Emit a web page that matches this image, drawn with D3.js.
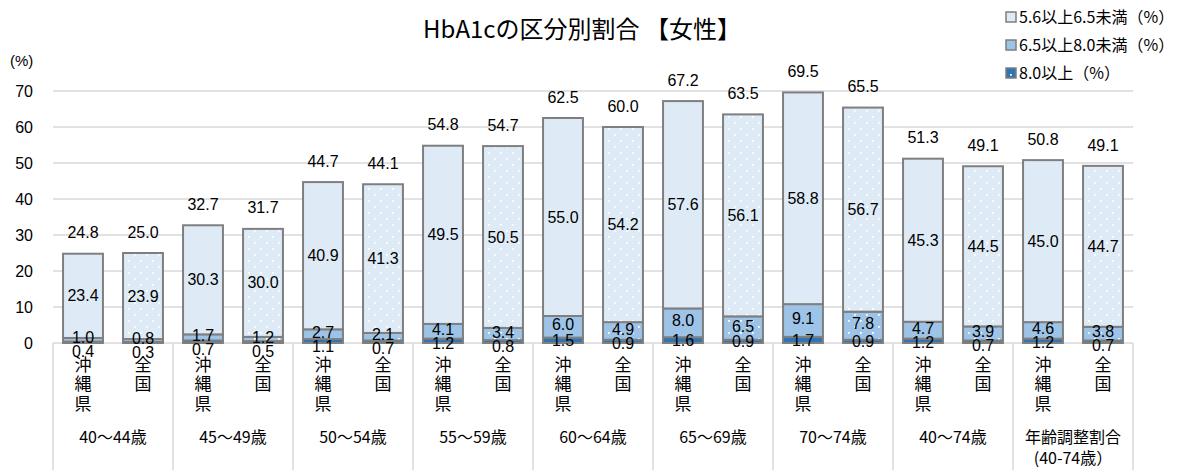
<!DOCTYPE html>
<html><head><meta charset="utf-8">
<script src="https://cdn.jsdelivr.net/npm/d3@7"></script>
<style>body{margin:0;background:#fff}svg{display:block}</style>
</head><body>
<svg id="c" width="1180" height="470"></svg>
<script>
const groups = ["40〜44歳","45〜49歳","50〜54歳","55〜59歳","60〜64歳","65〜69歳","70〜74歳","40〜74歳","年齢調整割合\n(40-74歳）"];
const areas = ["沖縄県","全国"];
// values per bar, order: group0 沖縄, group0 全国, group1 沖縄, ...
const v80 = [0.4,0.3, 0.7,0.5, 1.1,0.7, 1.2,0.8, 1.5,0.9, 1.6,0.9, 1.7,0.9, 1.2,0.7, 1.2,0.7];
const v65 = [1.0,0.8, 1.7,1.2, 2.7,2.1, 4.1,3.4, 6.0,4.9, 8.0,6.5, 9.1,7.8, 4.7,3.9, 4.6,3.8];
const v56 = [23.4,23.9, 30.3,30.0, 40.9,41.3, 49.5,50.5, 55.0,54.2, 57.6,56.1, 58.8,56.7, 45.3,44.5, 45.0,44.7];
const totals = [24.8,25.0, 32.7,31.7, 44.7,44.1, 54.8,54.7, 62.5,60.0, 67.2,63.5, 69.5,65.5, 51.3,49.1, 50.8,49.1];
const seriesNames = ["5.6以上6.5未満（%）","6.5以上8.0未満（%）","8.0以上（%）"];
const yTicks = [0,10,20,30,40,50,60,70];
const title = "HbA1cの区分別割合 【女性】";

const svg = d3.select("#c");
const L = 53, R = 1133, T = 91, B = 343;
const num = "'Liberation Sans', Arial, sans-serif";
const jp = "'Noto Sans CJK JP', sans-serif";

const bars = [];
groups.forEach((g,gi)=>areas.forEach((a,ai)=>bars.push({g,a,i:gi*2+ai})));

const x = d3.scaleBand().domain(bars.map(d=>d.i)).range([L,R]).paddingInner(0.335).paddingOuter(0.1675);
const xg = d3.scaleBand().domain(groups).range([L,R]);
const y = d3.scaleLinear().domain([0,70]).range([B,T]);

const colors = {s80:"#2e75b6", s65:"#9dc3e6", s56:"#deebf7"};

// patterns
const defs = svg.append("defs");
function pat(id, color){
  const p = defs.append("pattern").attr("id",id).attr("patternUnits","userSpaceOnUse")
    .attr("width",12).attr("height",12);
  p.append("rect").attr("width",12).attr("height",12).attr("fill",color);
  p.append("rect").attr("x",2).attr("y",2).attr("width",1.8).attr("height",1.8).attr("fill","#fff");
  p.append("rect").attr("x",8).attr("y",8).attr("width",1.8).attr("height",1.8).attr("fill","#fff");
}
pat("p56", colors.s56); pat("p65", colors.s65); pat("p80", colors.s80);

// gridlines
svg.append("g").selectAll("line").data(yTicks).join("line")
  .attr("x1",L).attr("x2",R).attr("y1",d=>y(d)).attr("y2",d=>y(d))
  .attr("stroke","#d9d9d9").attr("stroke-width",1.5);

// y axis labels
const yAxis = d3.axisLeft(y).tickValues(yTicks).tickSize(0).tickPadding(0).tickFormat(d3.format("d"));
const ya = svg.append("g").attr("transform",`translate(33,0)`).call(yAxis);
ya.select(".domain").remove();
ya.selectAll("text").attr("font-family",num).attr("font-size",16).attr("fill","#000");
svg.append("text").attr("x",10).attr("y",66).attr("font-family",num).attr("font-size",15).text("(%)");

// bottom category dividers
svg.append("g").selectAll("line").data(d3.range(groups.length+1)).join("line")
  .attr("x1",d=>L+d*xg.bandwidth()).attr("x2",d=>L+d*xg.bandwidth())
  .attr("y1",B).attr("y2",470).attr("stroke","#d9d9d9").attr("stroke-width",1.5);

// bars
const stackData = bars.map(b=>({b, segs:[
  {k:"80", v:v80[b.i], y0:0},
  {k:"65", v:v65[b.i], y0:v80[b.i]},
  {k:"56", v:v56[b.i], y0:v80[b.i]+v65[b.i]}
]}));
const bg = svg.append("g");
stackData.forEach(d=>{
  const nat = d.b.a==="全国";
  d.segs.forEach(s=>{
    bg.append("rect").attr("x",x(d.b.i)).attr("width",x.bandwidth())
      .attr("y",y(s.y0+s.v)).attr("height",y(s.y0)-y(s.y0+s.v))
      .attr("fill", nat ? `url(#p${s.k})` : colors["s"+s.k])
      .attr("stroke","#7f7f7f").attr("stroke-width",2);
  });
});

// data labels
const lg = svg.append("g").attr("font-family",num).attr("font-size",16).attr("text-anchor","middle").attr("fill","#000");
stackData.forEach(d=>{
  const cx = x(d.b.i)+x.bandwidth()/2;
  const [s80,s65,s56] = d.segs;
  const y56 = y(s56.y0+s56.v/2);
  const y65 = y(s65.y0+s65.v/2)-2;
  const y80 = Math.max(y(s80.v/2), y65+14);
  lg.append("text").attr("x",cx).attr("y",y56).attr("dy","0.35em").text(s56.v.toFixed(1));
  lg.append("text").attr("x",cx).attr("y",y65).attr("dy","0.35em").text(s65.v.toFixed(1));
  lg.append("text").attr("x",cx).attr("y",y80).attr("dy","0.35em").text(s80.v.toFixed(1));
  lg.append("text").attr("x",cx).attr("y",y(totals[d.b.i])-21).attr("dy","0.35em").text(totals[d.b.i].toFixed(1));
});

// category labels (vertical stacked chars)
const cg = svg.append("g").attr("font-family",jp).attr("font-size",17).attr("text-anchor","middle").attr("fill","#000");
bars.forEach(b=>{
  const cx = x(b.i)+x.bandwidth()/2;
  [...b.a].forEach((ch,k)=>{
    cg.append("text").attr("x",cx).attr("y",365+k*19.5).attr("dy","0.35em").text(ch);
  });
});
groups.forEach(g=>{
  const lines = g.split("\n");
  lines.forEach((ln,k)=>{
    cg.append("text").attr("x",xg(g)+xg.bandwidth()/2).attr("y",437+k*21).attr("dy","0.35em")
      .attr("font-size",16).text(ln);
  });
});

// title
svg.append("text").attr("x",582).attr("y",30).attr("dy","0.35em").attr("text-anchor","middle")
  .attr("font-family",jp).attr("font-size",24).attr("fill","#000").text(title);

// legend
const legKeys = ["56","65","80"];
const leg = svg.append("g");
seriesNames.forEach((n,i)=>{
  const yy = 17+i*28;
  leg.append("rect").attr("x",1006).attr("y",yy-5).attr("width",10).attr("height",10)
    .attr("fill", i===2 ? `url(#p80)` : colors["s"+legKeys[i]]).attr("stroke","#7f7f7f").attr("stroke-width",1.5);
  leg.append("text").attr("x",1019).attr("y",yy).attr("dy","0.35em").attr("font-family",jp)
    .attr("font-size",16).attr("fill","#000").text(n);
});
</script>
</body></html>
